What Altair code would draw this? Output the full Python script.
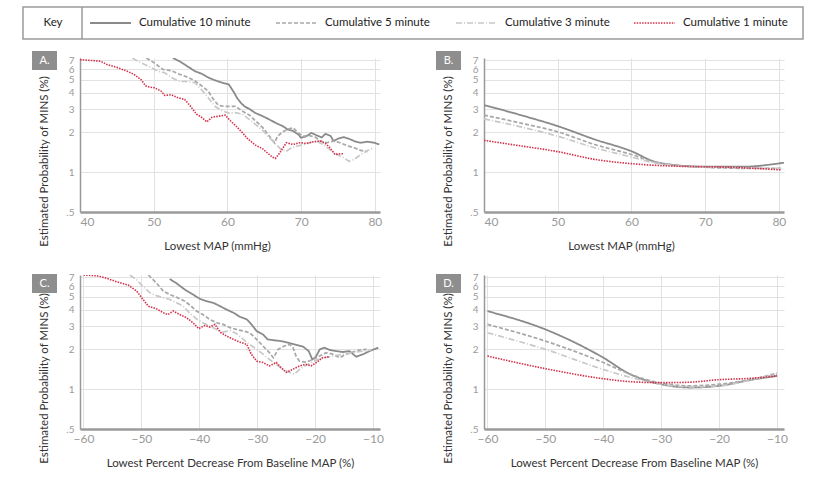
import altair as alt
import pandas as pd

series = ["Cumulative 10 minute", "Cumulative 5 minute", "Cumulative 3 minute", "Cumulative 1 minute"]
colors = ["#8a8a8a", "#a8a8a8", "#c8c8c8", "#d3304b"]
dashes = [[1, 0], [4, 2], [6, 2, 1, 2], [1.5, 1.2]]
widths = [1.8, 1.6, 1.4, 1.6]

y_ticks = [0.5, 1, 2, 3, 4, 5, 6, 7]
map_ticks = [40, 50, 60, 70, 80]
pct_ticks = [-60, -50, -40, -30, -20, -10]

# Panel A: Lowest MAP (mmHg), observed
A_10_x = [52.6, 53.5, 54.7, 55.6, 56.5, 57.4, 58.3, 59.3, 60.2, 60.9, 61.3, 61.8, 62.3, 63.0, 63.8, 64.8, 65.7, 66.6, 67.5, 68.2, 68.9, 69.6, 70.0, 70.7, 71.4, 72.1, 72.8, 73.3, 74.0, 74.4, 75.1, 75.8, 76.7, 77.4, 78.1, 79.0, 79.9, 80.6]
A_10_y = [7.3, 6.9, 6.25, 5.8, 5.55, 5.2, 4.95, 4.75, 4.6, 4.0, 3.65, 3.35, 3.15, 3.0, 2.8, 2.65, 2.5, 2.35, 2.23, 2.1, 2.05, 1.93, 1.82, 1.87, 1.98, 1.9, 1.83, 1.95, 1.88, 1.72, 1.8, 1.84, 1.77, 1.7, 1.67, 1.7, 1.67, 1.62]
A_5_x = [49.0, 50.1, 51.2, 52.4, 53.5, 54.7, 55.6, 56.5, 57.4, 58.1, 58.8, 59.5, 60.2, 61.1, 62.0, 63.0, 63.8, 64.8, 65.7, 66.4, 66.8, 67.5, 68.1, 68.9, 69.6, 70.3, 71.0, 71.9, 72.6, 73.5, 74.4, 75.3, 76.2, 77.2, 78.1, 79.0]
A_5_y = [7.3, 6.7, 6.0, 5.85, 5.5, 5.2, 4.9, 4.5, 4.1, 3.55, 3.2, 3.15, 3.15, 3.15, 2.9, 2.7, 2.45, 2.17, 1.87, 1.67, 1.87, 2.02, 2.1, 2.17, 1.98, 1.87, 1.9, 1.84, 1.72, 1.67, 1.72, 1.67, 1.59, 1.53, 1.46, 1.43]
A_3_x = [47.1, 48.3, 49.6, 50.6, 51.5, 52.4, 53.5, 54.7, 55.6, 56.5, 57.4, 58.3, 59.3, 60.2, 61.1, 62.0, 63.0, 63.8, 64.8, 65.7, 66.6, 67.3, 68.0, 68.7, 69.4, 70.3, 71.2, 72.1, 73.0, 73.9, 74.9, 75.8, 76.5, 77.2, 78.1, 79.0, 79.9]
A_3_y = [7.3, 6.7, 6.2, 5.8, 5.65, 5.2, 4.85, 4.85, 4.75, 4.2, 3.65, 3.15, 2.9, 2.8, 2.82, 2.75, 2.5, 2.3, 2.07, 1.82, 1.62, 1.48, 1.44, 1.53, 1.57, 1.62, 1.67, 1.72, 1.62, 1.48, 1.36, 1.28, 1.21, 1.25, 1.36, 1.46, 1.53]
A_1_x = [40.0, 41.4, 42.8, 43.7, 45.0, 46.4, 47.3, 48.3, 48.9, 49.4, 50.1, 51.0, 51.5, 52.4, 53.3, 54.2, 54.9, 55.8, 56.5, 57.2, 57.9, 58.8, 59.7, 60.4, 61.1, 62.0, 62.7, 63.8, 64.8, 65.1, 66.1, 66.5, 67.1, 68.0, 68.9, 69.8, 70.7, 71.7, 72.6, 73.3, 73.9, 74.6, 75.3, 75.8]
A_1_y = [7.1, 7.0, 6.9, 6.5, 6.2, 5.8, 5.5, 5.0, 4.5, 4.4, 4.35, 4.1, 3.8, 3.85, 3.65, 3.55, 3.2, 2.75, 2.6, 2.4, 2.6, 2.65, 2.7, 2.45, 2.25, 2.0, 1.8, 1.6, 1.5, 1.45, 1.3, 1.27, 1.4, 1.67, 1.62, 1.67, 1.65, 1.7, 1.72, 1.65, 1.53, 1.36, 1.38, 1.38]

# Panel B: Lowest MAP (mmHg), modelled
B_10_x = [40, 45, 50, 55, 60, 63, 66, 70, 75, 80.7]
B_10_y = [3.22, 2.7, 2.23, 1.77, 1.44, 1.21, 1.13, 1.10, 1.10, 1.18]
B_5_x = [40, 45, 50, 55, 60, 63, 66, 70, 75, 80.3]
B_5_y = [2.70, 2.35, 2.02, 1.62, 1.36, 1.2, 1.13, 1.09, 1.07, 1.07]
B_3_x = [40, 45, 50, 55, 60, 63, 66, 70, 75, 80.3]
B_3_y = [2.53, 2.2, 1.87, 1.53, 1.3, 1.18, 1.12, 1.09, 1.08, 1.07]
B_1_x = [40, 45, 50, 55, 60, 66, 70, 75, 80.3]
B_1_y = [1.74, 1.58, 1.43, 1.25, 1.16, 1.11, 1.10, 1.08, 1.04]

# Panel C: Lowest percent decrease from baseline MAP, observed
C_10_x = [-45.1, -44.0, -42.5, -41.1, -39.9, -38.8, -37.6, -36.4, -35.3, -34.1, -33.0, -31.8, -31.0, -30.1, -29.0, -28.2, -27.0, -25.9, -24.7, -23.6, -22.1, -21.1, -20.5, -19.9, -19.2, -18.4, -17.5, -16.4, -15.2, -14.1, -12.9, -11.7, -10.6, -9.1]
C_10_y = [6.8, 6.35, 5.66, 5.2, 4.82, 4.63, 4.5, 4.24, 4.0, 3.78, 3.53, 3.37, 3.09, 2.75, 2.59, 2.38, 2.34, 2.31, 2.25, 2.18, 2.1, 1.94, 1.68, 1.75, 2.0, 2.06, 1.98, 1.94, 1.91, 1.94, 1.76, 1.84, 1.94, 2.06]
C_5_x = [-48.8, -47.4, -46.2, -45.1, -43.7, -42.5, -41.4, -40.5, -39.4, -38.2, -37.0, -35.9, -34.7, -33.6, -32.4, -31.3, -30.1, -29.0, -27.9, -27.2, -26.4, -25.3, -24.4, -23.8, -23.3, -22.7, -21.6, -20.4, -19.2, -18.1, -17.0, -15.8, -14.6, -13.5, -12.3, -11.1]
C_5_y = [7.3, 6.35, 5.5, 5.2, 4.9, 4.63, 4.24, 3.9, 3.67, 3.37, 3.18, 3.09, 2.92, 2.83, 2.75, 2.67, 2.38, 2.12, 1.89, 1.73, 2.0, 2.12, 2.18, 2.06, 1.78, 1.63, 1.6, 1.68, 1.78, 1.89, 1.84, 1.73, 1.84, 1.91, 1.98, 2.0]
C_3_x = [-52.0, -50.8, -49.7, -48.5, -47.4, -46.2, -45.1, -43.9, -42.8, -41.7, -40.5, -39.4, -38.2, -37.0, -35.9, -34.7, -33.6, -32.4, -31.3, -30.1, -29.0, -27.9, -26.7, -25.6, -24.4, -23.6, -22.7, -21.8, -20.7, -19.5, -18.4, -16.9, -15.2, -13.5, -11.7, -10.3]
C_3_y = [7.3, 6.7, 5.95, 5.35, 5.1, 4.9, 4.76, 4.5, 4.24, 3.78, 3.4, 3.18, 3.0, 2.83, 2.7, 2.78, 2.64, 2.38, 2.18, 2.0, 1.84, 1.68, 1.54, 1.41, 1.34, 1.3, 1.41, 1.5, 1.59, 1.68, 1.73, 1.78, 1.84, 1.89, 1.94, 1.98]
C_1_x = [-60.0, -57.7, -56.0, -54.3, -52.2, -50.8, -49.7, -48.8, -47.4, -46.2, -45.4, -44.5, -43.4, -42.2, -41.1, -40.1, -39.1, -38.2, -37.3, -36.4, -35.3, -34.1, -33.0, -31.8, -31.0, -30.1, -29.0, -27.9, -26.7, -25.9, -25.0, -23.9, -22.7, -21.6, -20.7, -19.8, -18.7, -17.5]
C_1_y = [7.3, 7.2, 6.9, 6.5, 6.1, 5.5, 4.76, 4.24, 4.05, 3.78, 3.67, 3.9, 3.67, 3.47, 3.18, 2.87, 3.03, 2.95, 3.09, 2.7, 2.52, 2.38, 2.27, 2.18, 1.83, 1.63, 1.59, 1.5, 1.59, 1.46, 1.34, 1.41, 1.5, 1.54, 1.5, 1.59, 1.73, 1.76]

# Panel D: Lowest percent decrease from baseline MAP, modelled
D_x = [-60, -50, -40, -35.4, -30, -25, -20, -14.3, -10]
D_10_y = [3.89, 2.83, 1.73, 1.3, 1.09, 1.03, 1.06, 1.18, 1.26]
D_5_y = [3.09, 2.31, 1.59, 1.3, 1.11, 1.06, 1.09, 1.19, 1.32]
D_3_y = [2.67, 2.0, 1.41, 1.23, 1.09, 1.04, 1.06, 1.18, 1.3]
D_1_y = [1.78, 1.43, 1.2, 1.14, 1.12, 1.13, 1.18, 1.21, 1.26]

panel_data = {
    "A": [(A_10_x, A_10_y), (A_5_x, A_5_y), (A_3_x, A_3_y), (A_1_x, A_1_y)],
    "B": [(B_10_x, B_10_y), (B_5_x, B_5_y), (B_3_x, B_3_y), (B_1_x, B_1_y)],
    "C": [(C_10_x, C_10_y), (C_5_x, C_5_y), (C_3_x, C_3_y), (C_1_x, C_1_y)],
    "D": [(D_x, D_10_y), (D_x, D_5_y), (D_x, D_3_y), (D_x, D_1_y)],
}

rows = []
for p, lst in panel_data.items():
    for s, (xs, ys) in zip(series, lst):
        for i, (xv, yv) in enumerate(zip(xs, ys)):
            rows.append({"panel": p, "series": s, "x": xv, "y": yv, "i": i})
df = pd.DataFrame(rows)

FONT = "Lato"
W, H = 300, 154

y_axis = alt.Axis(
    values=y_ticks,
    labelExpr="datum.value == 0.5 ? '.5' : format(datum.value, 'd')",
    labelOverlap=False, labelFontSize=10,
    title="Estimated Probability of MINS (%)",
    titleX=-36, titleY=103, titleBaseline="middle", titleAlign="center", titleAngle=-90,
    domainColor="#999999", domainWidth=1.5, labelPadding=6,
)


def panel(name, xdom, xvals, xtitle, interp, box_top, title_x=None, with_legend=False):
    d = df[df.panel == name]
    ax_kw = dict(values=xvals, title=xtitle, domainColor="#9a9a9a", domainWidth=2.5,
                 labelPadding=4, titlePadding=13)
    if title_x is not None:
        ax_kw["titleX"] = title_x
    lines = alt.Chart(d).mark_line(interpolate=interp, clip=True).encode(
        x=alt.X("x:Q", scale=alt.Scale(domain=xdom, nice=False, zero=False), axis=alt.Axis(**ax_kw)),
        y=alt.Y("y:Q", scale=alt.Scale(type="log", domain=[0.5, 7.3], nice=False), axis=y_axis),
        color=alt.Color("series:N", scale=alt.Scale(domain=series, range=colors), legend=None),
        strokeDash=alt.StrokeDash("series:N", scale=alt.Scale(domain=series, range=dashes), legend=None),
        strokeWidth=alt.StrokeWidth("series:N", scale=alt.Scale(domain=series, range=widths), legend=None),
        order="i:Q",
    )
    lab = pd.DataFrame({"t": [name + "."]})
    box = alt.Chart(lab).mark_rect(color="#8e8e8e").encode(
        x=alt.value(-48), x2=alt.value(-23), y=alt.value(box_top), y2=alt.value(box_top + 19)
    )
    txt = alt.Chart(lab).mark_text(color="white", font=FONT, fontSize=11, align="center", baseline="middle").encode(
        x=alt.value(-35.5), y=alt.value(box_top + 9.5), text="t:N"
    )
    layers = [lines, box, txt]
    if with_legend:
        key = pd.DataFrame({"t": ["Key"]})
        frame = alt.Chart(key).mark_rect(fillOpacity=0, stroke="#9a9a9a", strokeWidth=1.5).encode(
            x=alt.value(-57), x2=alt.value(723), y=alt.value(-51), y2=alt.value(-19)
        )
        sep = alt.Chart(key).mark_rule(color="#9a9a9a", strokeWidth=1.5).encode(
            x=alt.value(2), y=alt.value(-51), y2=alt.value(-19)
        )
        keytxt = alt.Chart(key).mark_text(font=FONT, fontSize=11.5, color="#222", align="center", baseline="middle").encode(
            x=alt.value(-27), y=alt.value(-35), text="t:N"
        )
        layers += [frame, sep, keytxt]
        starts = [10, 196, 376, 554]
        for s, c, dsh, w, x0 in zip(series, colors, dashes, widths, starts):
            one = pd.DataFrame({"t": [s]})
            layers.append(alt.Chart(one).mark_rule(color=c, strokeDash=dsh, strokeWidth=w).encode(
                x=alt.value(x0), x2=alt.value(x0 + 41), y=alt.value(-35)))
            layers.append(alt.Chart(one).mark_text(font=FONT, fontSize=11.5, color="#222", align="left", baseline="middle").encode(
                x=alt.value(x0 + 49), y=alt.value(-35), text="t:N"))
    return alt.layer(*layers).properties(width=W, height=H)


A = panel("A", [40, 80.7], map_ticks, "Lowest MAP (mmHg)", "linear", -7, title_x=137, with_legend=True)
B = panel("B", [40, 80.7], map_ticks, "Lowest MAP (mmHg)", "monotone", -7, title_x=137)
C = panel("C", [-60.6, -8.8], pct_ticks, "Lowest Percent Decrease From Baseline MAP (%)", "linear", -1)
D = panel("D", [-60.6, -8.8], pct_ticks, "Lowest Percent Decrease From Baseline MAP (%)", "monotone", -1)

chart = alt.concat(A, B, C, D, columns=2, spacing=alt.RowColnumber(row=63, column=104), bounds="flush").properties(
    padding={"left": 22, "top": 6, "right": 5, "bottom": 5}
).configure_view(stroke=None).configure_axis(
    labelFont=FONT, titleFont=FONT, labelFontSize=12, labelColor="#9a9a9a",
    titleFontSize=11.5, titleColor="#333333", titleFontWeight="normal",
    ticks=False, grid=True, gridColor="#e2e2e2", gridWidth=1,
)

chart.save("out.html", embed_options={"renderer": "svg", "actions": False})
